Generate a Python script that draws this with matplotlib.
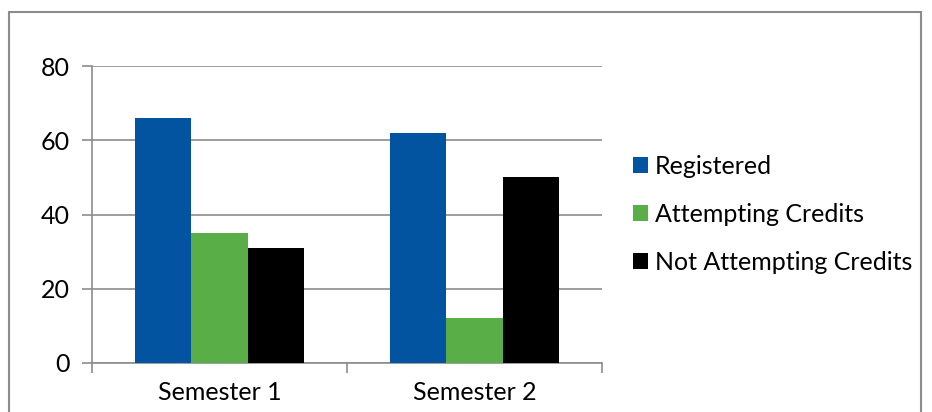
import numpy as np
import matplotlib.pyplot as plt
from matplotlib.patches import Rectangle

plt.rcParams['font.family'] = ['Lato', 'DejaVu Sans']

semesters = ['Semester 1', 'Semester 2']
series = ['Registered', 'Attempting Credits', 'Not Attempting Credits']
registered = [66, 62]
attempting = [35, 12]
not_attempting = [31, 50]
colors = ['#0354A0', '#5AAE48', '#000000']

fig = plt.figure(figsize=(9.32, 4.12), dpi=100)
ax = fig.add_axes([92/932, 1-363/412, 510/932, 297/412])

x = np.arange(len(semesters)) + 0.5
w = 0.22
for i, (vals, c, name) in enumerate(zip([registered, attempting, not_attempting], colors, series)):
    ax.bar(x + (i-1)*w, vals, w, color=c, label=name, zorder=3)

ax.set_xlim(0, 2)
ax.set_ylim(0, 80)
ax.set_yticks([0, 20, 40, 60, 80])
ax.yaxis.grid(True, color='#8c8c8c', linewidth=1.2, zorder=0)
ax.set_xticks([0, 1, 2])
ax.set_xticklabels([])
ax.set_xticks(x, minor=True)
ax.set_xticklabels(semesters, minor=True)
ax.tick_params(axis='x', which='minor', length=0, pad=13, labelsize=18)
ax.tick_params(axis='x', which='major', length=7, color='#8c8c8c', width=1.2)
ax.tick_params(axis='y', length=7, color='#8c8c8c', width=1.2, labelsize=18, pad=9)
for s in ['top', 'right']:
    ax.spines[s].set_visible(False)
for s in ['left', 'bottom']:
    ax.spines[s].set_color('#8c8c8c')
    ax.spines[s].set_linewidth(1.2)

leg = fig.legend(loc='center left', bbox_to_anchor=(610/932, 1-214/412), frameon=False,
                 fontsize=18, handlelength=0.6, handleheight=0.6, handletextpad=0.3,
                 labelspacing=1.0)

fig.patches.append(Rectangle((9/932, -0.1), 912/932, 1.1-12/412, transform=fig.transFigure,
                             fill=False, edgecolor='#8c8c8c', linewidth=1.5))

fig.savefig('out.png', dpi=100)
